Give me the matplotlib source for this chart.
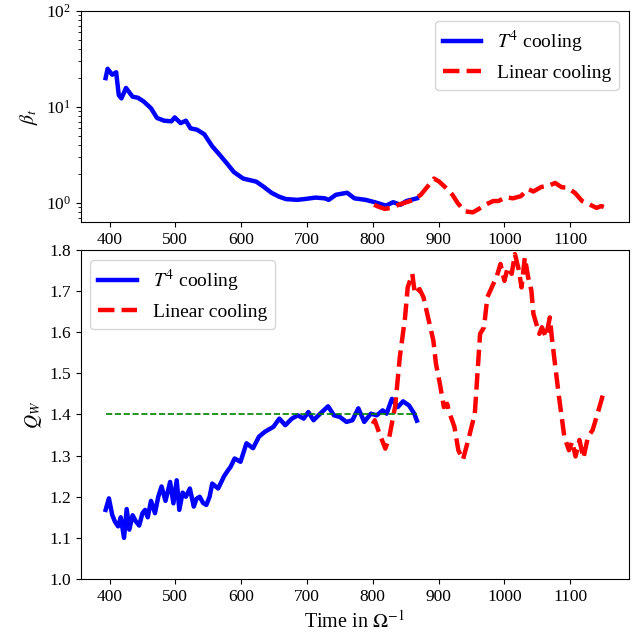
import matplotlib
matplotlib.use("Agg")
import matplotlib.pyplot as plt

plt.rcParams["font.family"] = ["Liberation Serif", "DejaVu Serif"]
plt.rcParams["mathtext.fontset"] = "stix"

# beta_t, T^4 cooling (blue)
t_beta_t4 = [394, 397, 404, 410, 414, 418, 425, 435, 443, 452, 463, 472, 483, 494, 499,
             508, 516, 523, 533, 544, 556, 567, 578, 589, 603, 623, 634, 646, 657, 668,
             685, 696, 713, 727, 733, 744, 761, 772, 789, 803, 820, 831, 842, 851, 867]
beta_t4 = [20.0, 25.0, 21.7, 23.0, 13.3, 12.3, 15.8, 12.8, 12.5, 11.4, 9.7, 7.7, 7.2, 7.1, 7.8,
           6.8, 7.2, 6.0, 5.8, 5.2, 3.9, 3.2, 2.6, 2.1, 1.80, 1.67, 1.48, 1.28, 1.17, 1.10,
           1.08, 1.10, 1.14, 1.12, 1.08, 1.22, 1.28, 1.12, 1.08, 1.02, 0.94, 1.02, 0.96, 1.05, 1.12]

# beta_t, linear cooling (red)
t_beta_lin = [802, 808, 818, 828, 839, 851, 862, 873, 883, 893, 901, 912, 921, 929, 940,
              952, 960, 971, 983, 991, 1002, 1013, 1025, 1036, 1044, 1056, 1067, 1077, 1087,
              1095, 1107, 1118, 1129, 1140, 1147, 1151]
beta_lin = [0.96, 0.92, 0.87, 0.89, 0.96, 1.02, 1.08, 1.22, 1.48, 1.80, 1.67, 1.42, 1.22, 1.00, 0.82,
            0.80, 0.86, 0.96, 1.05, 1.05, 1.15, 1.12, 1.18, 1.40, 1.32, 1.47, 1.51, 1.62, 1.46,
            1.45, 1.28, 1.05, 0.97, 0.89, 0.93, 0.91]

# Q_W, T^4 cooling (blue)
t_q_t4 = [394, 399, 404, 408, 413, 417, 422, 426, 430, 435, 440, 445, 450, 454, 458, 463, 469, 474, 479,
          485, 492, 497, 502, 506, 511, 516, 522, 528, 532, 537, 542, 547, 552, 556, 565, 574, 579, 584,
          590, 599, 608, 618, 627, 636, 649, 658, 667, 677, 686, 695, 702, 710, 720, 732, 741, 750,
          760, 769, 778, 787, 797, 806, 815, 821, 829, 838, 846, 855, 863, 867]
q_t4 = [1.168, 1.196, 1.156, 1.140, 1.128, 1.150, 1.100, 1.170, 1.120, 1.155, 1.140, 1.130, 1.160, 1.168,
        1.150, 1.190, 1.160, 1.200, 1.225, 1.190, 1.236, 1.184, 1.240, 1.168, 1.210, 1.200, 1.220, 1.176,
        1.195, 1.200, 1.185, 1.180, 1.200, 1.232, 1.220, 1.250, 1.262, 1.273, 1.293, 1.285, 1.330,
        1.318, 1.346, 1.358, 1.370, 1.390, 1.374, 1.390, 1.398, 1.390, 1.406, 1.386, 1.402, 1.420, 1.398, 1.394,
        1.382, 1.386, 1.415, 1.382, 1.402, 1.398, 1.410, 1.402, 1.438, 1.418, 1.432, 1.422, 1.402, 1.385]

# Q_W, linear cooling (red)
t_q_lin = [800, 803, 810, 819, 825, 834, 841, 849, 853, 860, 864, 871, 877, 885, 892,
           896, 902, 908, 913, 916, 924, 930, 937, 945, 955, 963, 969, 974, 983, 988,
           994, 1000, 1005, 1011, 1016, 1022, 1026, 1031, 1036, 1041, 1044, 1050, 1053, 1057, 1063,
           1069, 1072, 1078, 1083, 1091, 1098, 1103, 1108, 1114, 1120, 1127, 1134, 1140, 1146, 1151]
q_lin = [1.377, 1.386, 1.354, 1.317, 1.345, 1.420, 1.539, 1.636, 1.709, 1.742, 1.693, 1.705, 1.685, 1.629, 1.580,
         1.523, 1.474, 1.418, 1.426, 1.406, 1.370, 1.313, 1.290, 1.338, 1.402, 1.596, 1.612, 1.685, 1.717, 1.734,
         1.766, 1.725, 1.758, 1.742, 1.790, 1.750, 1.709, 1.782, 1.734, 1.701, 1.645, 1.612, 1.596, 1.612, 1.588,
         1.636, 1.588, 1.507, 1.442, 1.346, 1.313, 1.334, 1.298, 1.338, 1.294, 1.346, 1.362, 1.394, 1.427, 1.456]

q_ref = 1.4
q_ref_span = [394, 867]

fig = plt.figure(figsize=(6.39, 6.35), dpi=100)
ax1 = fig.add_axes([0.1263, 0.6504, 0.8576, 0.3323])
ax2 = fig.add_axes([0.1263, 0.0882, 0.8576, 0.5181])

ax1.plot(t_beta_t4, beta_t4, "b-", lw=3.2, label="$T^4$ cooling")
ax1.plot(t_beta_lin, beta_lin, "r--", lw=3.2, label="Linear cooling")
ax1.set_yscale("log")
ax1.set_ylim(0.635, 100)
ax1.set_ylabel(r"$\beta_t$", fontsize=14)
ax1.legend(loc="upper right", fontsize=14)

ax2.plot(t_q_t4, q_t4, "b-", lw=3.2, label="$T^4$ cooling")
ax2.plot(t_q_lin, q_lin, "r--", lw=3.2, label="Linear cooling")
ax2.plot(q_ref_span, [q_ref, q_ref], "g--", lw=1.2)
ax2.set_ylim(1.0, 1.8)
ax2.set_ylabel("$Q_W$", fontsize=14)
ax2.set_xlabel(r"Time in $\Omega^{-1}$", fontsize=14.5)
ax2.legend(loc="upper left", fontsize=14)

xl = ax2.get_xlim()
ax1.set_xlim(xl)
for ax in (ax1, ax2):
    ax.tick_params(labelsize=12.5)

fig.savefig("out.png", dpi=100)
